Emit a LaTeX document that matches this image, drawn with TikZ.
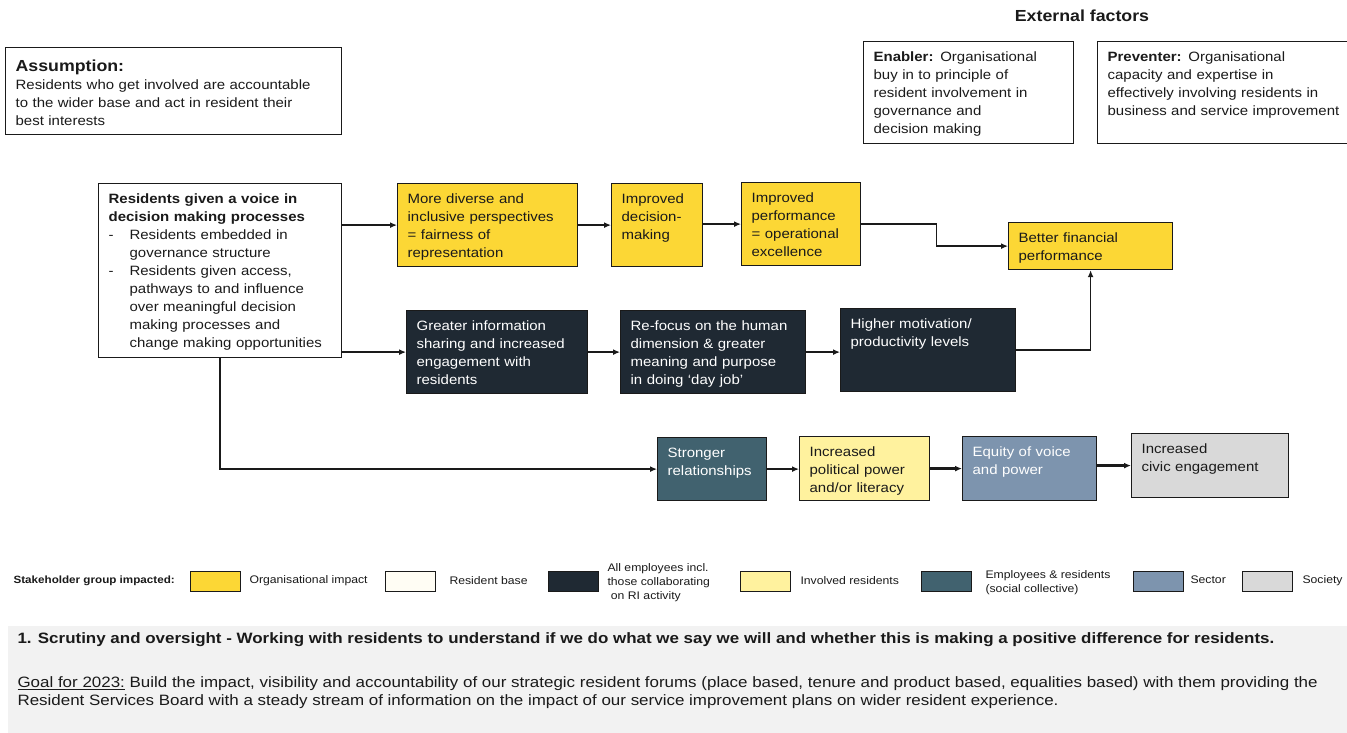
\documentclass[tikz,border=0pt]{standalone}
\usepackage{fontspec}
\setmainfont[FakeStretch=1.11]{Liberation Sans}
\newfontfamily\notefont[FakeStretch=1.13]{Liberation Sans}
\usetikzlibrary{arrows.meta,backgrounds}

\definecolor{orgyel}{HTML}{FCD735}
\definecolor{resbase}{HTML}{FFFDF4}
\definecolor{staff}{HTML}{1F2933}
\definecolor{invyel}{HTML}{FFF29E}
\definecolor{collect}{HTML}{41626F}
\definecolor{sector}{HTML}{7D94AE}
\definecolor{society}{HTML}{D9D9D9}
\definecolor{ink}{HTML}{1A1A1A}
\definecolor{notebg}{HTML}{F2F2F2}

\begin{document}
\begin{tikzpicture}[x=1pt,y=-1pt,font=\fontsize{13.5}{18}\selectfont,text=ink,
    box/.style={draw=ink, line width=1.2pt, anchor=north west, align=left,
      inner xsep=10pt, inner ysep=5pt, text height=14.5pt},
    arr/.style={draw=ink, line width=1.3pt, -{Latex[length=7pt,width=6pt]}},
    key/.style={draw=ink, line width=0.8pt, minimum width=50pt, minimum height=20pt, inner sep=0pt},
    keytxt/.style={anchor=west, align=left, font=\fontsize{11}{14}\selectfont}]

    \useasboundingbox (0,0) rectangle (1347,733);

    % assumption and external factors
    \node[box, text width=316pt, text height=19pt, text depth=58pt] (assume) at (5,47)
      {{\fontsize{16}{18}\selectfont\bfseries Assumption:}\\
       Residents who get involved are accountable\\
       to the wider base and act in resident their\\
       best interests};
    \node[font=\fontsize{16}{20}\selectfont\bfseries] (ext) at (1082,16) {External factors};
    \node[box, text width=190pt, text depth=77.5pt] (enab) at (863,41)
      {\textbf{Enabler:} Organisational\\ buy in to principle of\\ resident involvement in\\
       governance and\\ decision making};
    \node[box, text width=236pt, text depth=77.5pt] (prev) at (1097,41)
      {\textbf{Preventer:} Organisational\\ capacity and expertise in\\
       effectively involving residents in\\ business and service improvement};

    % source
    \node[box, fill=white, text width=223pt, text depth=149.5pt] (voice) at (98,183)
      {\textbf{Residents given a voice in}\\ \textbf{decision making processes}\\
       \makebox[21pt][l]{-}Residents embedded in\\
       \hspace*{21pt}governance structure\\
       \makebox[21pt][l]{-}Residents given access,\\
       \hspace*{21pt}pathways to and influence\\
       \hspace*{21pt}over meaningful decision\\
       \hspace*{21pt}making processes and\\
       \hspace*{21pt}change making opportunities};

    % organisational row
    \node[box, fill=orgyel, text width=160pt, text depth=58.5pt] (diverse) at (397,183)
      {More diverse and\\ inclusive perspectives\\ = fairness of\\ representation};
    \node[box, fill=orgyel, text width=71pt, text depth=58.5pt] (decide) at (611,183)
      {Improved\\ decision-\\ making};
    \node[box, fill=orgyel, text width=99pt, text depth=58.5pt] (perf) at (741,182)
      {Improved\\ performance\\ = operational\\ excellence};
    \node[box, fill=orgyel, text width=144pt, text depth=22.5pt] (fin) at (1008,222)
      {Better financial\\ performance};

    % employee row
    \node[box, fill=staff, text=white, text width=161pt, text depth=58.5pt] (info) at (406,310)
      {Greater information\\ sharing and increased\\ engagement with\\ residents};
    \node[box, fill=staff, text=white, text width=165pt, text depth=58.5pt] (focus) at (620,310)
      {Re-focus on the human\\ dimension \& greater\\ meaning and purpose\\ in doing `day job'};
    \node[box, fill=staff, text=white, text width=155pt, text depth=58.5pt] (motiv) at (840,308)
      {Higher motivation/\\ productivity levels};

    % resident row
    \node[box, fill=collect, text=white, text width=89pt, text depth=38.5pt] (rel) at (657,437)
      {Stronger\\ relationships};
    \node[box, fill=invyel, text width=110pt, text depth=39.5pt] (pol) at (799,436)
      {Increased\\ political power\\ and/or literacy};
    \node[box, fill=sector, text=white, text width=114pt, text depth=39.5pt] (equity) at (962,436)
      {Equity of voice\\ and power};
    \node[box, fill=society, text width=137pt, text depth=39.5pt] (civic) at (1131,433)
      {Increased\\ civic engagement};

    % connectors
    \draw[arr] (voice.east |- diverse.west) -- (diverse.west);
    \draw[arr] (diverse) -- (decide);
    \draw[arr] (decide.east |- perf.west) -- (perf.west);
    \draw[arr] (perf.east) -- ++(75,0) |- (fin.west);
    \draw[arr] (voice.east |- info.west) -- (info.west);
    \draw[arr] (info) -- (focus);
    \draw[arr] (focus.east) -- (motiv.west |- focus.east);
    \draw[arr] (motiv.east) -| (fin.south);
    \draw[arr] (voice.south) |- (rel.west);
    \draw[arr] (rel.east) -- (pol.west |- rel.east);
    \draw[arr, line width=2.4pt] (pol.east |- equity.west) -- (equity.west);
    \draw[arr, line width=2.4pt] (equity.east |- civic.west) -- (civic.west);

    % legend
    \node[keytxt, font=\fontsize{10.5}{11.5}\selectfont\bfseries] (stake) at (10,581) {Stakeholder group impacted:};
    \node[key, fill=orgyel] (k1) at (215,581) {};
    \node[keytxt] (t1) at (246,581) {Organisational impact};
    \node[key, fill=resbase] (k2) at (410,581) {};
    \node[keytxt] (t2) at (446,581) {Resident base};
    \node[key, fill=staff] (k3) at (573,581) {};
    \node[keytxt] (t3) at (604,583) {All employees incl.\\ those collaborating\\ \ on RI activity};
    \node[key, fill=invyel] (k4) at (765,581) {};
    \node[keytxt] (t4) at (797,581) {Involved residents};
    \node[key, fill=collect] (k5) at (946,581) {};
    \node[keytxt] (t5) at (982,583) {Employees \& residents\\ (social collective)};
    \node[key, fill=sector] (k6) at (1158,581) {};
    \node[keytxt] (t6) at (1187,580) {Sector};
    \node[key, fill=society] (k7) at (1267,581) {};
    \node[keytxt] (t7) at (1299,581) {Society};

    % goal
    \begin{scope}[on background layer]
    \fill[notebg] (8,626) rectangle (1347,733);
    \end{scope}
    \node[anchor=west, font=\notefont\fontsize{15}{18}\selectfont\bfseries] (scrut) at (14,640)
      {1. Scrutiny and oversight - Working with residents to understand if we do what we say we will and whether this is making a positive difference for residents.};
    \node[anchor=north west, align=left, font=\notefont\fontsize{15}{18}\selectfont] (goal) at (14,673)
      {\underline{Goal for 2023:} Build the impact, visibility and accountability of our strategic resident forums (place based, tenure and product based, equalities based) with them providing the\\
       Resident Services Board with a steady stream of information on the impact of our service improvement plans on wider resident experience.};
\end{tikzpicture}
\end{document}
